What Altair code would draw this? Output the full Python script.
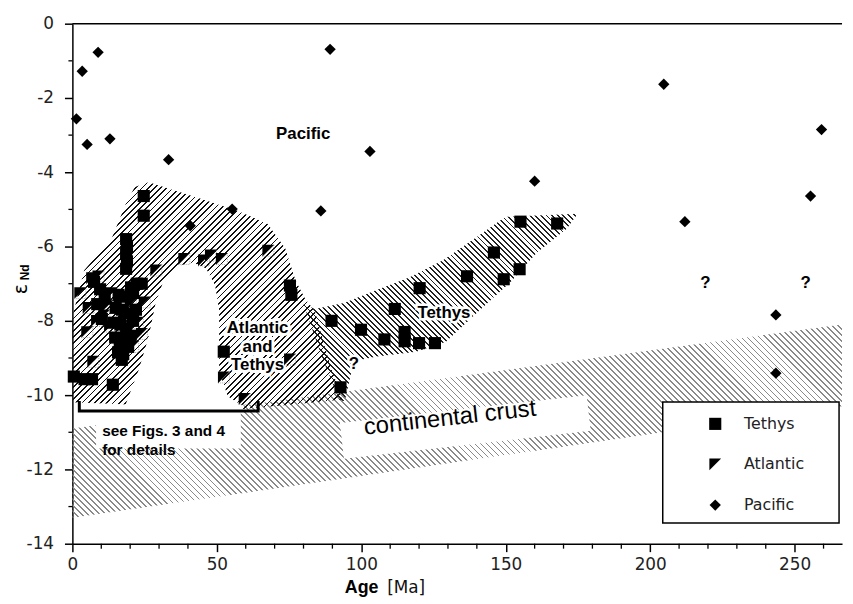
import altair as alt
import pandas as pd
import numpy as np

PLOT_W, PLOT_H = 777, 525
AGE_MAX = 266.4
END_MIN, END_MAX = -14.0, 0.0

# ---------------- data points (Age [Ma], eNd) ----------------
tethys_age = [24.7, 24.7, 18.6, 18.9, 18.6, 18.9, 18.6,
              22.3, 24.0, 20.3, 16.0, 18.5, 21.0, 15.0, 17.2, 19.6, 22.0,
              14.3, 16.6, 18.6, 21.0, 14.8, 16.4, 18.2, 20.2, 15.8, 17.6, 19.3, 17.1,
              7.5, 9.6, 8.6, 11.2, 10.2,
              0.5, 4.2, 6.8, 14.0,
              52.4, 75.3, 75.8,
              89.7, 92.8, 99.9, 108.0, 115.0, 115.0, 111.6, 120.2, 120.0, 125.5,
              136.6, 145.9, 149.3, 154.8, 155.1, 167.8]
tethys_end = [-4.64, -5.17, -5.8, -6.0, -6.2, -6.4, -6.6,
              -7.0, -7.0, -7.1, -7.3, -7.35, -7.25, -7.65, -7.7, -7.8, -7.7,
              -8.05, -8.1, -8.2, -8.0, -8.45, -8.6, -8.5, -8.4, -8.85, -8.9, -8.7, -9.05,
              -6.95, -7.15, -7.55, -7.4, -7.95,
              -9.5, -9.57, -9.57, -9.72,
              -8.83, -7.05, -7.3,
              -8.0, -9.79, -8.24, -8.5, -8.3, -8.55, -7.68, -7.12, -8.6, -8.6,
              -6.8, -6.16, -6.88, -6.61, -5.33, -5.38]

atlantic_age = [2.7, 5.1, 7.2, 5.6, 6.8, 9.0, 12.2, 13.6, 16.3, 18.0, 13.0, 20.2,
                22.6, 25.0, 29.0, 24.0, 8.5, 11.0, 21.0,
                38.7, 45.5, 47.9, 51.7, 67.8, 52.4, 59.6, 75.3]
atlantic_end = [-7.25, -8.3, -9.1, -7.65, -6.85, -6.8, -7.6, -7.25, -7.5, -7.9, -8.15, -7.55,
                -8.05, -7.5, -6.64, -8.35, -8.0, -7.85, -8.7,
                -6.33, -6.37, -6.24, -6.33, -6.11, -9.52, -10.1, -9.04]

pacific_age = [1.4, 3.4, 5.1, 8.9, 13.0, 33.3, 40.8, 55.3, 89.2, 86.0, 103.0,
               160.0, 204.7, 212.0, 243.5, 243.5, 255.5, 259.3]
pacific_end = [-2.56, -1.28, -3.25, -0.77, -3.1, -3.66, -5.44, -4.99, -0.69, -5.04, -3.44,
               -4.24, -1.63, -5.33, -7.84, -9.41, -4.64, -2.85]

groups = ["Tethys", "Atlantic", "Pacific"]

# ---------------- shaded fields (outlines) ----------------
atl_field_age = [0, 0, 4.1, 13.7, 18.5, 21.6, 26.4, 43.6, 57.3, 67.6, 73.7, 77.2,
                 80.5, 84.0, 88.5, 93.3, 77.8, 59.0]
atl_field_end = [-10.19, -7.89, -6.64, -5.76, -4.85, -4.4, -4.27, -4.69, -5.04, -5.39,
                 -6.05, -6.91, -7.4, -7.75, -9.0, -10.12, -10.24, -10.37]

arch_age = [18.5, 23.0, 26.4, 28.8, 31.6, 36.0, 41.8, 46.3, 49.4, 50.8, 50.8, 53.8,
            59.0, 59.0, 18.5]
arch_end = [-10.24, -9.31, -8.43, -7.52, -6.91, -6.53, -6.43, -6.59, -7.04, -7.71,
            -9.36, -10.03, -10.29, -10.43, -10.43]

teth_field_age = [174.9, 149.9, 139.6, 128.3, 116.6, 105.3, 94.0, 84.0, 80.0, 86.5,
                  92.5, 94.3, 97.4, 105.3, 119.0, 129.3, 140.3, 151.6, 160.8, 171.1]
teth_field_end = [-5.12, -5.2, -5.76, -6.37, -6.83, -7.17, -7.52, -7.68, -7.55, -9.0,
                  -10.15, -10.16, -9.09, -8.96, -8.83, -8.56, -7.76, -6.96, -6.16, -5.52]

crust_age = [0, 266.4, 266.4, 0]
crust_end = [-10.9, -8.1, -10.3, -13.3]

crust_box_age = [92.6, 178.0, 179.4, 94.0]
crust_box_end = [-10.75, -10.0, -10.96, -11.71]

note_box_age = [8.2, 58.3]
note_box_end = [-10.42, -11.44]

bracket_age = [2.4, 2.4, 64.3, 64.3]
bracket_end = [-10.16, -10.43, -10.43, -10.16]

# ---------------- labels ----------------
bold_text = ["Pacific", "Tethys", "?", "?", "?"]
bold_age = [79.9, 128.6, 97.4, 219.1, 253.8]
bold_end = [-2.96, -7.79, -9.17, -6.99, -6.99]

x_label_values = [0, 50, 100, 150, 200, 250]
y_label_values = [0, -2, -4, -6, -8, -10, -12, -14]
x_minor = [10, 20, 30, 40, 60, 70, 80, 90, 110, 120, 130, 140, 160, 170, 180, 190,
           210, 220, 230, 240, 260]
y_minor = [-1, -3, -5, -7, -9, -11, -13]

# ---------------- scales / axes ----------------
xs = alt.Scale(domain=[0, AGE_MAX], nice=False, zero=False)
ys = alt.Scale(domain=[END_MIN, END_MAX], nice=False, zero=False)

x_axis = alt.Axis(values=x_label_values, title=None, grid=False, tickSize=8, tickWidth=1.5,
                  tickColor="black", domainColor="black", domainWidth=1.5,
                  labelFont="DejaVu Sans", labelFontSize=17, labelColor="#222",
                  labelPadding=5, labelFlush=False)
y_axis = alt.Axis(values=y_label_values, title=None, grid=False, tickSize=8, tickWidth=1.5,
                  tickColor="black", domainColor="black", domainWidth=1.5,
                  labelFont="DejaVu Sans", labelFontSize=17, labelColor="#222",
                  labelPadding=11, labelFlush=False, labelExpr="'' + datum.value")


def X(field="age"):
    return alt.X(f"{field}:Q", scale=xs, axis=x_axis)


def Y(field="end"):
    return alt.Y(f"{field}:Q", scale=ys, axis=y_axis)


def hatch(ages, ends, direction, spacing, frac, color):
    w = (max(ages) - min(ages)) * PLOT_W / AGE_MAX
    h = (max(ends) - min(ends)) * PLOT_H / (END_MAX - END_MIN)
    r = w / h
    b = (r + 1) / (r * r + 1)
    a = r * b
    n = max(1, int(round((w + h) / np.sqrt(2) / spacing)))
    clear = "rgba(255,255,255,0)"
    stops = []
    for i in range(n):
        s0, s1, s2 = i / n, (i + frac) / n, (i + 1) / n
        stops += [alt.GradientStop(offset=round(s0, 6), color=color),
                  alt.GradientStop(offset=round(s1, 6), color=color),
                  alt.GradientStop(offset=round(s1, 6), color=clear),
                  alt.GradientStop(offset=round(s2, 6), color=clear)]
    if direction == "/":
        return alt.LinearGradient(gradient="linear", stops=stops, x1=0, y1=0, x2=a, y2=b)
    return alt.LinearGradient(gradient="linear", stops=stops, x1=0, y1=1, x2=a, y2=1 - b)


def polygon(ages, ends, fill):
    df = pd.DataFrame({"age": ages, "end": ends, "k": list(range(len(ages)))})
    return alt.Chart(df).mark_line(fill=fill, strokeOpacity=0, clip=True).encode(
        x=X(), y=Y(), order="k:Q")


one = pd.DataFrame({"a": [0]})

# ---------------- layers ----------------
crust = polygon(crust_age, crust_end, hatch(crust_age, crust_end, "\\", 4.3, 0.3, "#8a8a8a"))
crust_box = polygon(crust_box_age, crust_box_end, "white")
note_box = alt.Chart(pd.DataFrame({"a1": [note_box_age[0]], "a2": [note_box_age[1]],
                                   "e1": [note_box_end[0]], "e2": [note_box_end[1]]})).mark_rect(
    color="white").encode(x=X("a1"), x2="a2:Q", y=Y("e1"), y2="e2:Q")
teth_field = polygon(teth_field_age, teth_field_end,
                     hatch(teth_field_age, teth_field_end, "\\", 4.0, 0.34, "#222"))
atl_field = polygon(atl_field_age, atl_field_end,
                    hatch(atl_field_age, atl_field_end, "/", 4.4, 0.29, "#111"))
arch = polygon(arch_age, arch_end, "white")

bracket = alt.Chart(pd.DataFrame({"age": bracket_age, "end": bracket_end,
                                  "k": list(range(4))})).mark_line(
    color="black", strokeWidth=3).encode(x=X(), y=Y(), order="k:Q")

top_line = alt.Chart(one).mark_rule(color="black", strokeWidth=1.5).encode(
    x=alt.value(0), x2=alt.value(PLOT_W), y=alt.value(0))
xminor = alt.Chart(pd.DataFrame({"age": x_minor})).mark_rule(color="black", strokeWidth=1.3).encode(
    x=X(), y=alt.value(PLOT_H), y2=alt.value(PLOT_H + 5))
yminor = alt.Chart(pd.DataFrame({"end": y_minor})).mark_rule(color="black", strokeWidth=1.3).encode(
    y=Y(), x=alt.value(0), x2=alt.value(-4))

legend_box = alt.Chart(one).mark_rect(fill="white", stroke="black", strokeWidth=1.5).encode(
    x=alt.value(596), x2=alt.value(774), y=alt.value(382), y2=alt.value(504))

bold_df = pd.DataFrame({"t": bold_text, "age": bold_age, "end": bold_end})
halo_props = dict(font="Liberation Sans", fontWeight="bold", fontSize=17,
                  align="center", baseline="middle")
bold_halo = alt.Chart(bold_df).mark_text(color="white", stroke="white", strokeWidth=5,
                                         **halo_props).encode(x=X(), y=Y(), text="t:N")
bold_lab = alt.Chart(bold_df).mark_text(color="black", **halo_props).encode(
    x=X(), y=Y(), text="t:N")

at_df = pd.DataFrame({"t": ["Atlantic\nand\nTethys"], "age": [64.1], "end": [-8.19]})
at_halo = alt.Chart(at_df).mark_text(color="white", stroke="white", strokeWidth=6,
                                     lineBreak="\n", lineHeight=19, **halo_props).encode(
    x=X(), y=Y(), text="t:N")
at_lab = alt.Chart(at_df).mark_text(color="black", lineBreak="\n", lineHeight=19,
                                    **halo_props).encode(x=X(), y=Y(), text="t:N")

note_df = pd.DataFrame({"t": ["see Figs. 3 and 4\nfor details"], "age": [10.3], "end": [-10.97]})
note = alt.Chart(note_df).mark_text(color="black", font="Liberation Sans", fontWeight="bold",
                                    fontSize=15.5, align="left", baseline="middle",
                                    lineBreak="\n", lineHeight=19).encode(
    x=X(), y=Y(), text="t:N")

crust_df = pd.DataFrame({"t": ["continental  crust"], "age": [130.7], "end": [-10.62]})
crust_lab = alt.Chart(crust_df).mark_text(color="black", font="Liberation Sans", fontSize=24,
                                          angle=353.6, align="center", baseline="middle").encode(
    x=X(), y=Y(), text="t:N")

# axis titles
eps = alt.Chart(one).mark_text(text="ε", font="DejaVu Sans", fontSize=19, angle=270,
                               align="center", baseline="middle", color="black").encode(
    x=alt.value(-52), y=alt.value(268))
nd = alt.Chart(one).mark_text(text="Nd", font="Liberation Sans", fontSize=12, fontWeight="bold",
                              angle=270, align="center", baseline="middle", color="black").encode(
    x=alt.value(-48), y=alt.value(251))
age_t = alt.Chart(one).mark_text(text="Age", font="Liberation Sans", fontSize=18, fontWeight="bold",
                                 align="center", baseline="middle", color="black").encode(
    x=alt.value(292), y=alt.value(570))
ma_t = alt.Chart(one).mark_text(text="[Ma]", font="DejaVu Sans", fontSize=17,
                                align="center", baseline="middle", color="#111").encode(
    x=alt.value(337), y=alt.value(570))

# points
pts = pd.DataFrame({
    "age": tethys_age + atlantic_age + pacific_age,
    "end": tethys_end + atlantic_end + pacific_end,
    "group": ["Tethys"] * len(tethys_age) + ["Atlantic"] * len(atlantic_age)
             + ["Pacific"] * len(pacific_age),
})
ATL_PATH = "M-1,-1L1,-1L-1,1Z"
leg = alt.Legend(title=None, orient="none", legendX=602, legendY=382, padding=14,
                 symbolOffset=25, labelOffset=21, rowPadding=25,
                 labelFont="DejaVu Sans", labelFontSize=16, labelColor="#222",
                 symbolFillColor="black", symbolStrokeWidth=0)

atl_pts = pd.DataFrame({"age": atlantic_age, "end": atlantic_end})
atl_outline = alt.Chart(atl_pts).mark_point(shape="M1,-1L1,1L-1,1Z", filled=False, size=130,
                                            stroke="#888", strokeWidth=0.7, strokeDash=[1, 1],
                                            opacity=1).encode(x=X(), y=Y())

points = alt.Chart(pts).mark_point(filled=True, color="black", opacity=1).encode(
    x=X(), y=Y(),
    shape=alt.Shape("group:N", scale=alt.Scale(domain=groups, range=["square", ATL_PATH, "diamond"]),
                    legend=leg),
    size=alt.Size("group:N", scale=alt.Scale(domain=groups, range=[150, 130, 105]), legend=leg),
)

chart = alt.layer(
    crust, crust_box, note_box, teth_field, atl_field, arch, bracket,
    top_line, xminor, yminor, legend_box,
    bold_halo, at_halo, bold_lab, at_lab, note, crust_lab,
    eps, nd, age_t, ma_t,
    atl_outline, points,
).properties(
    width=PLOT_W, height=PLOT_H,
    padding={"left": 65, "top": 13, "right": 3, "bottom": 55},
    autosize=alt.AutoSizeParams(type="none"),
).configure_view(strokeWidth=0)

chart.save("out.html", embed_options={"renderer": "svg", "actions": False})
